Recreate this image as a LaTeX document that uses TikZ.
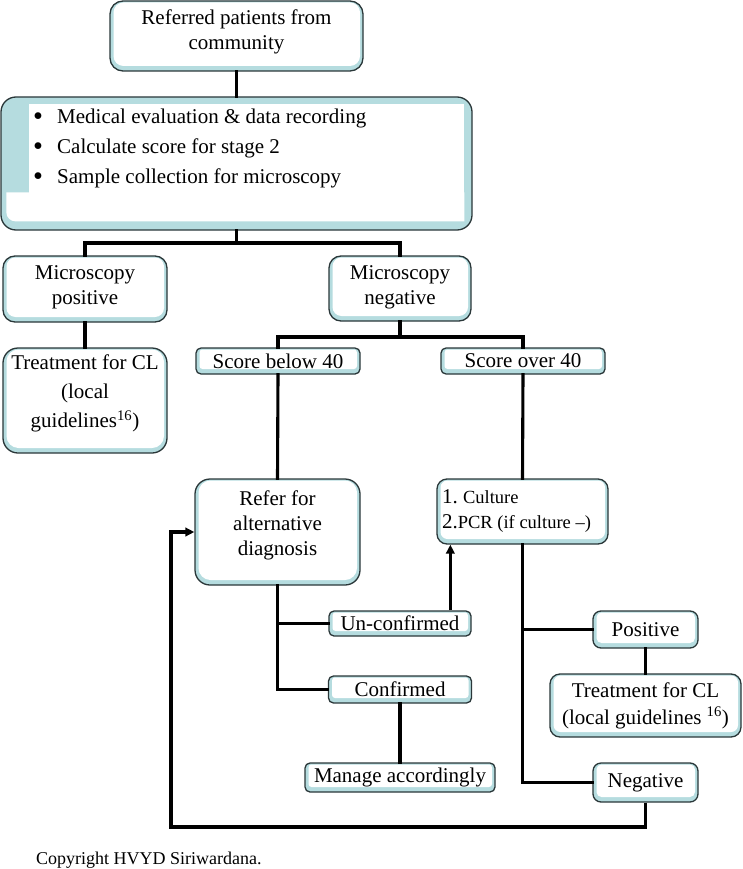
\documentclass[tikz,border=0pt]{standalone}
\usepackage{fontspec}
\setmainfont{Liberation Serif}
\usetikzlibrary{arrows.meta}
\definecolor{shade}{HTML}{B5DCDF}
\definecolor{edge}{HTML}{2A3739}
\newcommand\mainsz{\fontsize{21}{25}\selectfont}
\newcommand\smsz{\fontsize{18.5}{25}\selectfont}
\newcommand\blt{\makebox[8pt][c]{\raisebox{-2.5pt}{\scalebox{1.35}{\textbullet}}}\hspace{15pt}}
\tikzset{
  bx/.style 2 args={draw=edge, line width=1.3pt, fill=shade, rounded corners=#1,
    inner sep=0pt, align=center, font=\mainsz,
    path picture={\fill[white, rounded corners=#2]
      ([xshift=3.5pt,yshift=5pt]path picture bounding box.south west) rectangle
      ([xshift=-3pt,yshift=-1.5pt]path picture bounding box.north east);}},
  conn/.style={line width=3.1pt, black, line cap=rect},
  arr/.style={line width=3.1pt, black, -{Triangle[length=9pt,width=8.5pt]}},
}
\begin{document}
\begin{tikzpicture}[x=1pt,y=-1pt]
\useasboundingbox (0,0) rectangle (743,869);
% boxes
\node[bx={13pt}{10pt}, minimum width=253pt, minimum height=70pt] (top) at (236.5,36) {Referred patients from\\community\\[-12pt]};
\node[draw=edge, line width=1.3pt, fill=shade, rounded corners=15pt, minimum width=471pt, minimum height=133pt] (big) at (236.5,163.5) {};
\fill[white] ([shift={(29,8)}]big.north west) rectangle ([shift={(464,97)}]big.north west);
\fill[white] ([shift={(6,96)}]big.north west) [rounded corners=9pt] -- ([shift={(6,125)}]big.north west) [sharp corners] -- ([shift={(464,125)}]big.north west) -- ([shift={(464,96)}]big.north west) -- cycle;
\node[anchor=west, inner sep=0pt, align=left, font=\fontsize{21}{30}\selectfont] (bigtext) at (34,148)
  {\blt Medical evaluation \& data recording\\
   \blt Calculate score for stage 2\\
   \blt Sample collection for microscopy};
\node[bx={12pt}{9pt}, minimum width=164pt, minimum height=66pt] (mpos) at (85,289) {Microscopy\\positive\\[-18pt]};
\node[bx={12pt}{9pt}, minimum width=142pt, minimum height=65pt] (mneg) at (400,288.5) {Microscopy\\negative\\[-19pt]};
\node[bx={15pt}{12pt}, minimum width=164pt, minimum height=105pt, font=\fontsize{21}{29}\selectfont] (treat1) at (85,400.5) {Treatment for CL\\(local\\guidelines\textsuperscript{16})\\[-11pt]};
\node[bx={5pt}{3pt}, minimum width=164pt, minimum height=26pt] (below) at (278,361) {Score below 40};
\node[bx={5pt}{3pt}, minimum width=164pt, minimum height=26pt] (over) at (523,361) {Score over 40};
\node[bx={15pt}{12pt}, minimum width=165pt, minimum height=106pt] (refer) at (277.5,532) {Refer for\\alternative\\diagnosis\\[-7pt]};
\node[bx={10pt}{7pt}, minimum width=171pt, minimum height=65pt, align=left] (culture) at (522.5,511.5) {1.~{\smsz Culture}\\2.{\smsz PCR (if culture –)}\hspace*{12pt}};
\node[bx={5pt}{3pt}, minimum width=142pt, minimum height=25pt] (unconf) at (400,623.5) {Un-confirmed};
\node[bx={5pt}{3pt}, minimum width=143pt, minimum height=27pt] (conf) at (400,689.5) {Confirmed};
\node[bx={5pt}{3pt}, minimum width=190pt, minimum height=29pt] (manage) at (400,777.5) {Manage accordingly};
\node[bx={8pt}{5pt}, minimum width=105pt, minimum height=37pt] (pos) at (645.5,629.5) {Positive};
\node[bx={10pt}{7pt}, minimum width=191pt, minimum height=63pt, font=\fontsize{21}{27}\selectfont] (treat2) at (645.5,705.5) {Treatment for CL\\(local guidelines \textsuperscript{16})};
\node[bx={8pt}{5pt}, minimum width=105pt, minimum height=39pt] (neg) at (645.5,782.5) {Negative};
\node[anchor=west, inner sep=0pt, font=\fontsize{18}{20}\selectfont] (copy) at (36,860) {Copyright HVYD Siriwardana.};
% junctions
\coordinate (j1) at (236.5,243);
\coordinate (j2) at (400,337);
\coordinate (fb) at (171,827);
\coordinate (cul1) at ([xshift=14pt]culture.south west);
% connectors
\draw[conn] (top.south) -- (big.north);
\draw[conn] (big.south) -- (j1);
\draw[conn] (mpos.north) |- (j1) -| (mneg.north);
\draw[conn] (mpos.south) -- (treat1.north);
\draw[conn] (mneg.south) -- (j2);
\draw[conn] (below.north) |- (j2) -| (over.north);
\draw[conn] (below.south) -- (refer.north);
\draw[conn] (over.south) -- (culture.north);
\draw[conn] (refer.south) |- (conf.west);
\draw[conn] (refer.south |- unconf.west) -- (unconf.west);
\draw[arr] (unconf.north -| cul1) -- (cul1);
\draw[conn] (conf.south) -- (manage.north);
\draw[conn] (culture.south) |- (neg.west);
\draw[conn] (culture.south |- pos.west) -- (pos.west);
\draw[conn] (pos.south) -- (treat2.north);
\draw[arr] (neg.south) |- (fb) |- (refer.west);
\end{tikzpicture}
\end{document}
